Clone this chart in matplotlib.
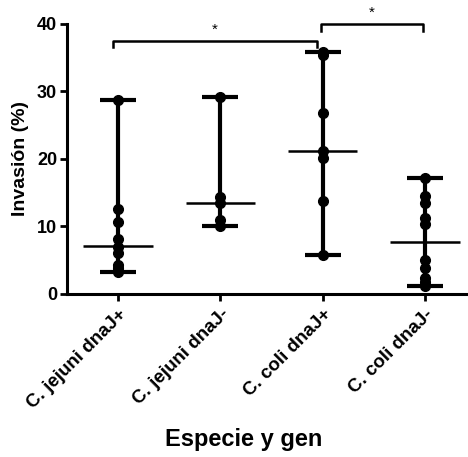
import matplotlib.pyplot as plt
import numpy as np

plt.rcParams['font.family'] = ['Liberation Sans', 'DejaVu Sans']
plt.rcParams['font.weight'] = 'bold'

groups = ['C. jejuni dnaJ+', 'C. jejuni dnaJ-', 'C. coli dnaJ+', 'C. coli dnaJ-']
g1 = [28.7, 12.6, 10.7, 8.1, 7.0, 6.0, 4.3, 3.8, 3.3]
g2 = [29.2, 14.3, 13.5, 11.0, 10.0]
g3 = [35.8, 35.3, 26.8, 21.1, 20.1, 13.8, 5.8]
g4 = [17.1, 14.5, 13.5, 11.3, 10.3, 5.0, 3.8, 2.3, 1.8, 1.1]
medians = [7.1, 13.4, 21.2, 7.7]
data = [g1, g2, g3, g4]

# significance brackets: (x1, x2, y, drop)
brackets = [(-0.05, 1.94, 37.5, 36.6), (1.98, 2.98, 40.0, 38.9)]

fig = plt.figure(figsize=(4.68, 4.57), dpi=100)
ax = fig.add_axes([0.143, 0.357, 0.857, 0.591])

for i, vals in enumerate(data):
    lo, hi = min(vals), max(vals)
    ax.vlines(i, lo, hi, color='black', lw=3.0, zorder=2)
    ax.hlines([lo, hi], i - 0.175, i + 0.175, color='black', lw=3.0, zorder=2)
    ax.hlines(medians[i], i - 0.34, i + 0.34, color='black', lw=1.8, zorder=3)
    ax.plot([i] * len(vals), vals, 'o', color='black', ms=7, zorder=4, clip_on=False)

for x1, x2, y, d in brackets:
    ax.plot([x1, x1, x2, x2], [d, y, y, d], color='black', lw=1.8, clip_on=False)
    ax.text((x1 + x2) / 2, y + 0.6, '*', ha='center', va='bottom', fontsize=11, fontweight='normal')

ax.set_xlim(-0.5, 3.42)
ax.set_ylim(0, 40)
ax.set_yticks([0, 10, 20, 30, 40])
ax.set_xticks(range(4))
ax.set_xticklabels(groups, rotation=45, ha='right', rotation_mode='anchor', fontsize=13.5)
ax.tick_params(axis='y', labelsize=13, width=2, length=5, pad=2)
ax.tick_params(axis='x', width=2, length=5)
for s in ['top', 'right']:
    ax.spines[s].set_visible(False)
for s in ['left', 'bottom']:
    ax.spines[s].set_linewidth(2.2)
ax.set_ylabel('Invasión (%)', fontsize=14, fontweight='bold', labelpad=6)
ax.set_xlabel('Especie y gen', fontsize=17, fontweight='bold')
ax.xaxis.set_label_coords(0.44, -0.495)

fig.savefig('out.png', dpi=100)
